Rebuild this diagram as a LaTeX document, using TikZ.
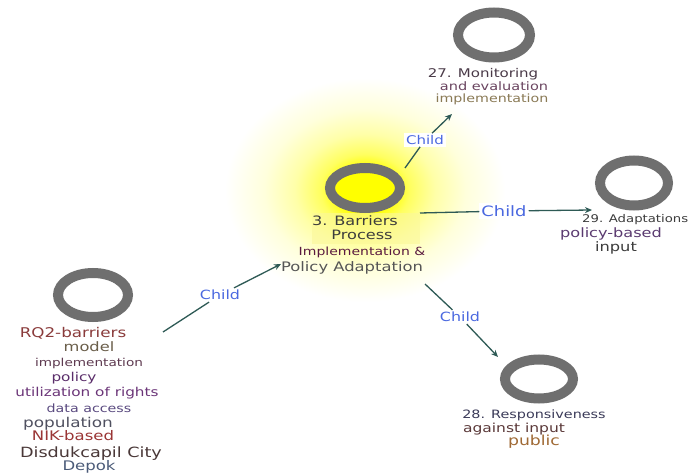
\documentclass[tikz,border=0pt]{standalone}
\usepackage{fontspec}
\setmainfont{DejaVu Sans}[FakeStretch=1.25]
\usetikzlibrary{shapes.geometric,arrows.meta}

\definecolor{ringgray}{HTML}{6F6F6F}
\definecolor{linkteal}{HTML}{2E5A55}
\definecolor{childblue}{HTML}{4A68E0}
\definecolor{haloA}{HTML}{FFFF00}
\definecolor{haloB}{HTML}{FFFF60}
\definecolor{haloC}{HTML}{FFFFA8}
\definecolor{haloD}{HTML}{FFFFDC}
\definecolor{markYellow}{HTML}{FBF79A}
\definecolor{tRQ}{HTML}{8A3B3B}
\definecolor{tModel}{HTML}{6A5E4A}
\definecolor{tImpl}{HTML}{5E3A50}
\definecolor{tPolicy}{HTML}{5A2D6A}
\definecolor{tUtil}{HTML}{6B3578}
\definecolor{tData}{HTML}{5A4A80}
\definecolor{tPop}{HTML}{4F5060}
\definecolor{tNIK}{HTML}{9A3535}
\definecolor{tDis}{HTML}{4A3838}
\definecolor{tDepok}{HTML}{4A5A78}
\definecolor{tDark}{HTML}{3C3C3C}
\definecolor{tMaroon}{HTML}{5A1A40}
\definecolor{tGray}{HTML}{555555}
\definecolor{tMon}{HTML}{4A3A48}
\definecolor{tEval}{HTML}{6A4560}
\definecolor{tOlive}{HTML}{8A7A55}
\definecolor{tPurple}{HTML}{5A3A70}
\definecolor{tResp}{HTML}{3A3A58}
\definecolor{tAgainst}{HTML}{5A3838}
\definecolor{tPublic}{HTML}{A06A35}

% soft yellow glow; 25bp is the rim of the shaded path
\pgfdeclareradialshading{halo}{\pgfpoint{0bp}{0bp}}{%
  color(0bp)=(haloA); color(5bp)=(haloA); color(8bp)=(haloB);
  color(12.5bp)=(haloC); color(18bp)=(haloD); color(25bp)=(white);
  color(50bp)=(white)}

\begin{document}
\begin{tikzpicture}[x=1pt,y=-1pt,
  ring/.style={ellipse, draw=ringgray, line width=10pt, inner sep=0pt},
  txt/.style={anchor=base, inner sep=0pt, font=\fontsize{#1}{#1}\selectfont},
  childlbl/.style={text=childblue, fill=white, inner sep=2pt, font=\fontsize{#1}{#1}\selectfont},
  link/.style={draw=linkteal, line width=1.3pt},
  linkarrow/.style={link, -{Stealth[length=7pt,width=6pt]}}]

\useasboundingbox (0,0) rectangle (689,476);
\fill[white] (0,0) rectangle (689,476);

% glow around the central topic
\shade[shading=halo] (365,190) ellipse [x radius=140, y radius=112];
\fill[markYellow, opacity=0.6] (312,213) rectangle (420,244);

% rings
\node[ring, minimum width=70pt, minimum height=44pt] (rq) at (93,295) {};
\node[ring, minimum width=70pt, minimum height=40pt] (ctr) at (365,188) {};
\node[ring, minimum width=72pt, minimum height=45pt] (mon) at (494,35) {};
\node[ring, minimum width=68pt, minimum height=45pt] (ada) at (634,183) {};
\node[ring, minimum width=68pt, minimum height=39pt] (res) at (539,379) {};

% RQ2 word stack
\node[txt=13.4, text=tRQ] (rq1) at (73,337) {RQ2-barriers};
\node[txt=13, text=tModel] (rq2) at (89,352) {model};
\node[txt=10.9, text=tImpl] (rq3) at (89,366) {implementation};
\node[txt=12.2, text=tPolicy] (rq4) at (74,381) {policy};
\node[txt=12.2, text=tUtil] (rq5) at (87,396) {utilization of rights};
\node[txt=11.4, text=tData] (rq6) at (89,412) {data access};
\node[txt=13.5, text=tPop] (rq7) at (68,427) {population};
\node[txt=13.2, text=tNIK] (rq8) at (73,440) {NIK-based};
\node[txt=14.1, text=tDis] (rq9) at (91,457) {Disdukcapil City};
\node[txt=13.2, text=tDepok] (rq10) at (89,470) {Depok};

% central label
\node[txt=12.9, text=tDark] (c1) at (355,226) {3. Barriers};
\node[txt=12.9, text=tDark] (c2) at (362,240) {Process};
\node[txt=11.2, text=tMaroon] (c3) at (362,255) {Implementation \&};
\node[txt=13.1, text=tGray] (c4) at (352,272) {Policy Adaptation};

% monitoring label
\node[txt=12, text=tMon] (m1) at (483,78) {27. Monitoring};
\node[txt=11.6, text=tEval] (m2) at (494,91) {and evaluation};
\node[txt=11.4, text=tOlive] (m3) at (492,103) {implementation};

% adaptation label
\node[txt=10.6, text=tDark, anchor=base west] (a1) at (582,223) {29. Adaptations};
\node[txt=12.9, text=tPurple] (a2) at (611,237) {policy-based};
\node[txt=13, text=tDark] (a3) at (616,252) {input};

% responsiveness label
\node[txt=11.5, text=tResp] (r1) at (534,418) {28. Responsiveness};
\node[txt=12.4, text=tAgainst] (r2) at (514,432) {against input};
\node[txt=13.8, text=tPublic] (r3) at (534,445) {public};

% connector end points
\coordinate (s1) at (163,332);
\coordinate (t1) at (281,264);
\coordinate (s2) at (405,168);
\coordinate (t2) at (452,114);
\coordinate (s3) at (420,213);
\coordinate (t3) at (592,210);
\coordinate (s4) at (425,284);
\coordinate (t4) at (498,357);

% connector labels
\node[childlbl=12.7] (k1) at (220,295) {Child};
\node[childlbl=12] (k2) at (425,140) {Child};
\node[childlbl=14.3] (k3) at (504,211) {Child};
\node[childlbl=12.7] (k4) at (460,317) {Child};

% connectors
\draw[link] (s1) -- (k1);
\draw[linkarrow] (k1) -- (t1);
\draw[link] (s2) -- (k2);
\draw[linkarrow] (k2) -- (t2);
\draw[link] (s3) -- (k3);
\draw[linkarrow] (k3) -- (t3);
\draw[link] (s4) -- (k4);
\draw[linkarrow] (k4) -- (t4);
\end{tikzpicture}
\end{document}
